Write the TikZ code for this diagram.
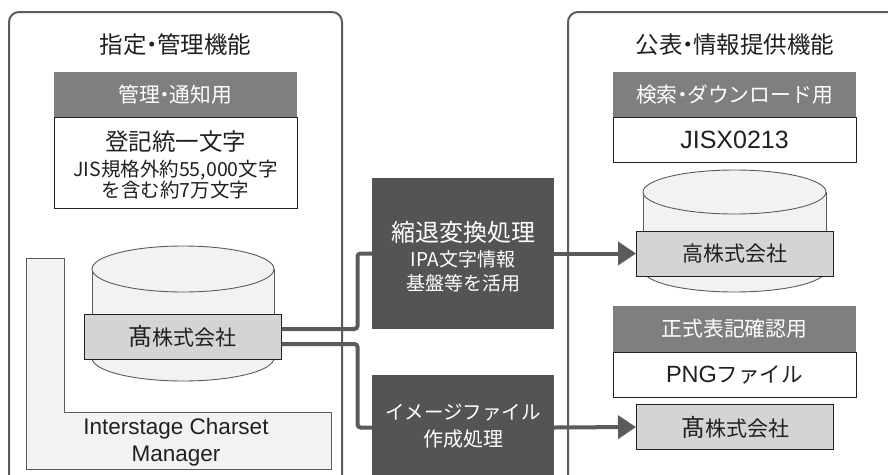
\documentclass[tikz,border=0pt]{standalone}
\usepackage{fontspec}
\setmainfont{Noto Sans CJK JP}
\newfontfamily\latf{Liberation Sans}
\usetikzlibrary{arrows.meta}
\definecolor{frame}{HTML}{5A5B5D}
\definecolor{hdrgray}{HTML}{7E7F81}
\definecolor{procgray}{HTML}{545456}
\definecolor{lblgray}{HTML}{D3D4D5}
\definecolor{cylgray}{HTML}{F1F2F3}
\definecolor{ink}{HTML}{231F20}
\newcommand{\nd}{\kern-.27em・\kern-.27em}
\newcommand{\fs}[1]{\fontsize{#1}{#1}\selectfont}
\tikzset{
  outer/.style={draw=frame, line width=2pt, rounded corners=10pt},
  hdr/.style={fill=hdrgray, draw=none, text=white, minimum width=243pt, inner sep=0pt, font=\fs{20.8}},
  wbox/.style={fill=white, draw=ink, line width=0.9pt, minimum width=243pt, inner sep=0pt},
  lbl/.style={fill=lblgray, draw=ink, line width=1pt, minimum width=197pt, minimum height=45pt, inner sep=0pt, text=ink, font=\fs{21}},
  proc/.style={fill=procgray, draw=none, text=white, minimum width=182pt, inner sep=0pt},
  cyl/.style={fill=cylgray, draw=frame, line width=0.9pt},
  conn/.style={draw=frame, line width=4pt, rounded corners=3pt},
  arr/.style={conn, -{Triangle[length=18pt,width=23pt]}},
  ttl/.style={text=ink, inner sep=0pt, font=\fs{23.5}},
  txt/.style={text=ink, inner sep=0pt, align=center},
  wtxt/.style={text=white, inner sep=0pt, align=center}
}
\begin{document}
\begin{tikzpicture}[x=1pt,y=-1pt]
\useasboundingbox (0,0) rectangle (888,474);
\begin{scope}
\clip (0,0) rectangle (888,474);
% outer frames
\draw[outer] (9,12) rectangle (342,500);
\draw[outer] (568,12) rectangle (910,500);
% left column
\node[ttl] (tL) at (175.5,45) {指定\nd 管理機能};
\node[hdr, minimum height=45pt] (hL) at (175.5,94.5) {管理\nd 通知用};
\node[wbox, minimum height=91pt] (wL) at (175.5,162.5) {};
\node[txt, font=\fs{23.5}] (wL1) at (175.5,142) {登記統一文字};
\node[txt, font=\fs{19.5}] (wL2) at (175.5,170) {JIS規格外約55,000文字};
\node[txt, font=\fs{19.5}] (wL3) at (175.5,190) {を含む約7万文字};
% Interstage L shape
\draw[cyl] (26,258) -- (64,258) -- (64,412) -- (331,412) -- (331,469) -- (26,469) -- cycle;
\node[txt, font=\latf\fs{22.5}, align=center] (ism) at (176,442) {Interstage Charset\\[4pt]Manager};
% left database
\draw[cyl] (183,358) ellipse [x radius=91, y radius=23];
\draw[cyl] (92,269) rectangle (274,358);
\draw[cyl] (183,269) ellipse [x radius=91, y radius=23];
\node[lbl] (dbL) at (182.5,336.5) {{\fs{24}髙}株式会社};
% processes
\node[proc, minimum height=151pt] (proc1) at (463,253.5) {};
\node[wtxt, font=\fs{24}] (p1a) at (463,232) {縮退変換処理};
\node[wtxt, font=\fs{19}] (p1b) at (463,259) {IPA文字情報};
\node[wtxt, font=\fs{19}] (p1c) at (463,283) {基盤等を活用};
\node[proc, minimum height=105pt] (proc2) at (463,427.5) {};
\node[wtxt, font=\fs{19.5}] (p2a) at (463,413) {イメージファイル};
\node[wtxt, font=\fs{20}] (p2b) at (463,439) {作成処理};
% right column
\node[ttl] (tR) at (735,45) {公表\nd 情報提供機能};
\node[hdr, minimum height=45pt] (hR1) at (734.5,94.5) {検索\nd ダウンロード用};
\node[wbox, minimum height=45pt, font=\latf\fs{25}, text=ink] (wR1) at (734.5,139.5) {JISX0213};
\draw[cyl] (734.5,270) ellipse [x radius=91.5, y radius=22];
\draw[cyl] (643,192) rectangle (826,270);
\draw[cyl] (734.5,192) ellipse [x radius=91.5, y radius=22];
\node[lbl] (dbR) at (735,253.5) {高株式会社};
\node[hdr, minimum height=46pt] (hR2) at (734.5,329) {正式表記確認用};
\node[wbox, minimum height=45pt, text=ink] (wR2) at (734.5,374.5) {{\latf\fs{23.5}PNG}{\fs{21.5}ファイル}};
\node[lbl] (imgR) at (735,427) {{\fs{24}髙}株式会社};
% connectors
\draw[conn] ([yshift=7.5pt]dbL.east) -- ++(76,0) |- (proc1.west);
\draw[conn] ([yshift=-7.5pt]dbL.east) -- ++(76,0) |- (proc2.west);
\draw[arr] (proc1.east) -- (dbR.west);
\draw[arr] (proc2.east) -- (imgR.west);
\end{scope}
\end{tikzpicture}
\end{document}
